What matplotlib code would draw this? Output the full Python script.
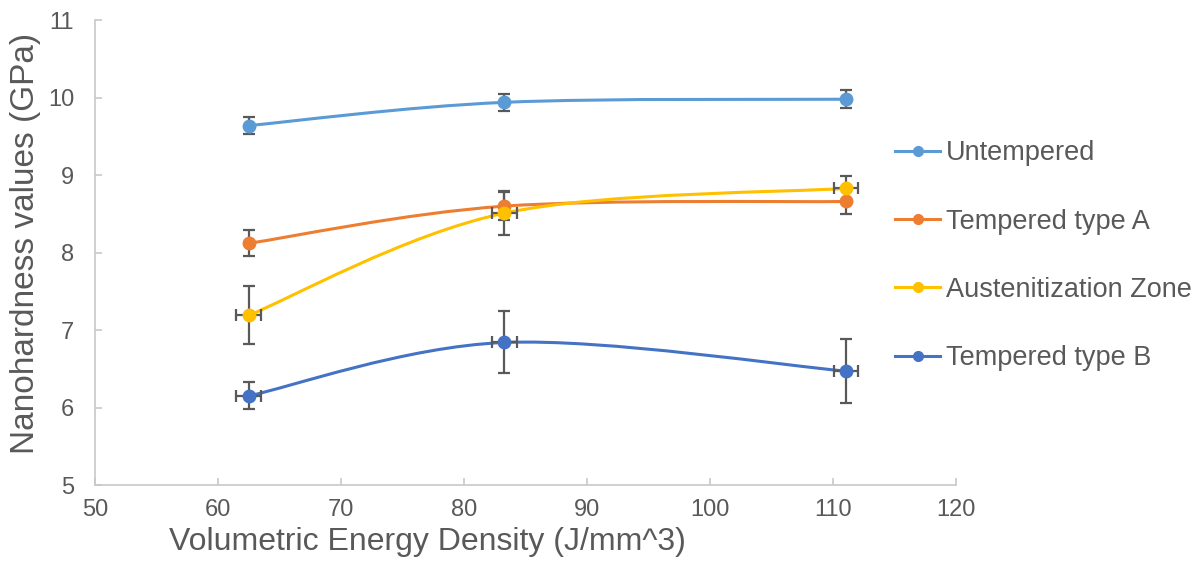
import numpy as np
import matplotlib.pyplot as plt
from matplotlib.path import Path
from matplotlib.patches import PathPatch

plt.rcParams['font.family'] = ['Liberation Sans', 'DejaVu Sans']

# data
energy = [62.5, 83.3, 111.1]
x_err = [1.0, 1.0, 1.0]

untempered = [9.64, 9.94, 9.98]
untempered_err = [0.11, 0.11, 0.115]
tempered_a = [8.12, 8.60, 8.66]
tempered_a_err = [0.17, 0.18, 0.16]
austenite = [7.19, 8.51, 8.83]
austenite_err = [0.375, 0.28, 0.16]
tempered_b = [6.15, 6.84, 6.47]
tempered_b_err = [0.175, 0.40, 0.41]

series = [
    ('Untempered', untempered, untempered_err, False, '#5B9BD5'),
    ('Tempered type A', tempered_a, tempered_a_err, False, '#ED7D31'),
    ('Austenitization Zone', austenite, austenite_err, True, '#FFC000'),
    ('Tempered type B', tempered_b, tempered_b_err, True, '#4472C4'),
]


def smooth_path(xs, ys):
    # Excel-like smoothed line: cubic bezier with catmull-rom control points
    pts = np.column_stack([xs, ys])
    verts = [pts[0]]
    codes = [Path.MOVETO]
    n = len(pts)
    for i in range(n - 1):
        p0 = pts[max(i - 1, 0)]
        p1 = pts[i]
        p2 = pts[i + 1]
        p3 = pts[min(i + 2, n - 1)]
        c1 = p1 + (p2 - p0) / 6
        c2 = p2 - (p3 - p1) / 6
        verts += [c1, c2, p2]
        codes += [Path.CURVE4] * 3
    return Path(verts, codes)


fig = plt.figure(figsize=(12.02, 5.62), dpi=100)
ax = fig.add_axes([0.079, 0.137, 0.716, 0.827])

grey = '#595959'
for name, vals, err, has_x, col in series:
    ax.add_patch(PathPatch(smooth_path(energy, vals), fill=False,
                           edgecolor=col, lw=2.2, zorder=2))
    ax.errorbar(energy, vals, yerr=err, xerr=x_err if has_x else None,
                fmt='none', ecolor=grey, elinewidth=1.6, capsize=4,
                capthick=1.6, zorder=3)
    ax.plot(energy, vals, 'o', color=col, ms=9, zorder=4)
    ax.plot([], [], '-o', color=col, lw=2.2, ms=7, label=name)

ax.set_xlim(50, 120)
ax.set_ylim(5, 11)
ax.set_xticks(range(50, 121, 10))
ax.set_yticks(range(5, 12))

for s in ['top', 'right']:
    ax.spines[s].set_visible(False)
for s in ['left', 'bottom']:
    ax.spines[s].set_color('#c8c8c8')
    ax.spines[s].set_linewidth(1.2)
ax.tick_params(direction='in', length=5, color='#c8c8c8', width=1.2,
               labelcolor=grey, labelsize=17)
ax.tick_params(axis='x', pad=10)
ax.tick_params(axis='y', pad=15)

ax.set_xlabel('Volumetric Energy Density (J/mm^3)', fontsize=23, color=grey)
ax.xaxis.set_label_coords(0.386, -0.09)
fig.text(0.021, 0.567, 'Nanohardness values (GPa)', rotation=90,
         fontsize=24, color=grey, ha='center', va='center')

ax.legend(loc='center left', bbox_to_anchor=(0.7446, 0.545),
          bbox_transform=fig.transFigure, borderaxespad=0, borderpad=0,
          frameon=False, fontsize=19.5, labelcolor=grey, handlelength=1.67,
          handletextpad=0.22, labelspacing=1.56)

fig.savefig('out.png', dpi=100)
